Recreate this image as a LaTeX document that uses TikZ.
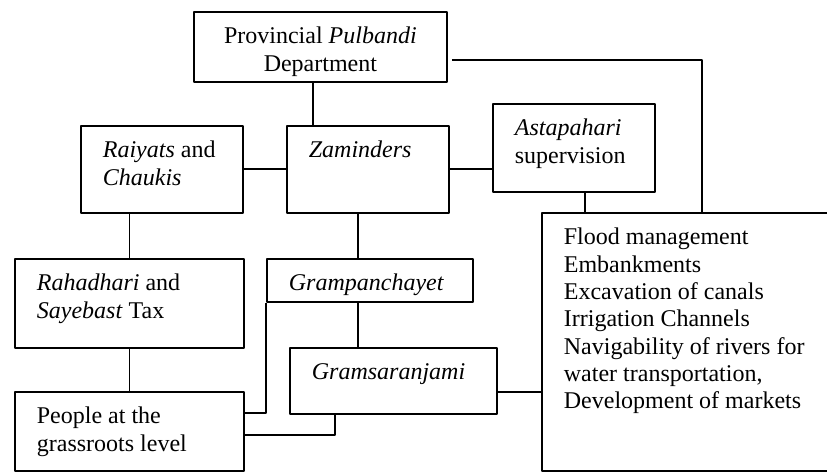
\documentclass[tikz,border=0pt]{standalone}
\usepackage{fontspec}
\setmainfont{Liberation Serif}
\newcommand{\boxtext}[4][\raggedright]{\parbox[t][#3][t]{#2}{#1\rule{0pt}{16pt}#4}}
\tikzset{cellbox/.style={draw,line width=0.9pt,anchor=north west,inner xsep=11pt,inner ysep=0pt,font=\fontsize{12}{13.65}\selectfont}}
\begin{document}
\begin{tikzpicture}[x=0.5pt,y=-0.5pt,line width=0.9pt,line join=round]
            \clip (0,0) rectangle (827,474);
            \fill[white] (0,0) rectangle (827,474);
            \node[cellbox] (prov) at (193,11) {\boxtext[\centering]{104.5pt}{35pt}{Provincial \textit{Pulbandi}\\Department}};
            \node[cellbox] (raiyats) at (80,125) {\boxtext{59pt}{43.5pt}{\textit{Raiyats} and\\\textit{Chaukis}}};
            \node[cellbox] (zam) at (286,125) {\boxtext{59pt}{43.5pt}{\textit{Zaminders}}};
            \node[cellbox] (asta) at (492,103) {\boxtext{59pt}{44pt}{\textit{Astapahari}\\supervision}};
            \node[cellbox] (flood) at (541,212) {\boxtext{135pt}{129pt}{Flood management\\Embankments\\Excavation of canals\\Irrigation Channels\\Navigability of rivers for\\water transportation,\\Development of markets}};
            \node[cellbox] (rahadhari) at (14,258) {\boxtext{92.5pt}{44.5pt}{\textit{Rahadhari} and\\\textit{Sayebast} Tax}};
            \node[cellbox] (gramp) at (266,258) {\boxtext{81pt}{21.5pt}{\textit{Grampanchayet}}};
            \node[cellbox] (grams) at (289,347) {\boxtext{81.5pt}{33pt}{\textit{Gramsaranjami}}};
            \node[cellbox] (people) at (14,391) {\boxtext{92.5pt}{39.5pt}{People at the\\grassroots level}};
            % links
            \draw ([xshift=60pt]prov.south west) -- ([xshift=13.5pt]zam.north west);
            \draw ([xshift=2pt,yshift=-24.5pt]prov.north east) -| ([xshift=80.5pt]flood.north west);
            \draw (raiyats) -- (zam);
            \draw (zam.east) -- (zam.east -| asta.west);
            \draw ([xshift=5.5pt]asta.south) -- ([xshift=5.5pt]asta.south |- flood.north);
            \draw (rahadhari.north) -- (rahadhari.north |- raiyats.south);
            \draw ([xshift=-6pt]gramp.north) -- ([xshift=-6pt]gramp.north |- zam.south);
            \draw ([xshift=-6pt]gramp.south) -- ([xshift=-6pt]gramp.south |- grams.north);
            \draw (rahadhari) -- (people);
            \draw ([yshift=-5.5pt]grams.east) -- ([yshift=-5.5pt]grams.east -| flood.west);
            \draw ([yshift=-11pt]people.north east) -| (gramp.south west);
            \draw ([yshift=-22pt]people.north east) -| ([xshift=23pt]grams.south west);
        \end{tikzpicture}
\end{document}
